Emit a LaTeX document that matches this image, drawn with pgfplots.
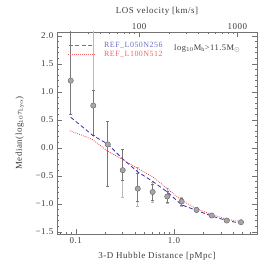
\documentclass[border=0pt]{standalone}
\usepackage{fontspec}
\setmainfont{Liberation Serif}[LetterSpace=6]
\usepackage{pgfplots}
\usepackage{pgfplotstable}
\pgfplotsset{compat=1.18}
\definecolor{axgray}{RGB}{115,115,115}
\definecolor{txtgray}{RGB}{60,60,60}
\definecolor{ptfill}{RGB}{172,164,164}
\definecolor{ptedge}{RGB}{110,105,105}
\definecolor{ebdark}{RGB}{120,120,120}
\definecolor{eblight}{RGB}{185,185,185}
\definecolor{blueline}{RGB}{50,50,160}
\definecolor{bluetext}{RGB}{110,110,195}
\definecolor{redline}{RGB}{240,70,80}
\definecolor{redtext}{RGB}{240,100,105}

\pgfplotstableread{
d      v      op    om     ip    im
0.089  1.20   1.40  0.595  1.40  0.595
0.151  0.754  1.80  0.524  0.266 0.524
0.212  0.061  0.41  0.75   0.41  0.75
0.301  -0.40  0.37  0.49   0.37  0.18
0.428  -0.73  0.39  0.32   0.28  0.22
0.607  -0.79  0.18  0.19   0.14  0.14
0.855  -0.87  0.14  0.13   0.10  0.10
1.197  -0.96  0.07  0.09   0.05  0.06
1.70   -1.11  0.04  0.04   0.03  0.03
2.42   -1.21  0.03  0.03   0.02  0.02
3.44   -1.30  0.02  0.02   0.015 0.015
4.81   -1.33  0.02  0.02   0.015 0.015
}\pts

\pgfplotstableread{
d      v
0.089  0.545
0.151  0.215
0.212  0.067
0.301  -0.20
0.428  -0.43
0.607  -0.60
0.855  -0.79
1.197  -1.02
1.70   -1.12
2.42   -1.22
3.44   -1.30
4.81   -1.35
}\blueL

\pgfplotstableread{
d      v
0.087  0.305
0.146  0.156
0.212  -0.06
0.301  -0.21
0.428  -0.37
0.607  -0.52
0.855  -0.73
1.197  -0.94
1.70   -1.09
2.42   -1.19
3.44   -1.28
4.81   -1.32
}\redL

\pgfplotsset{
  common/.style={
    width=200bp, height=202.5bp, scale only axis,
    at={(0,0)}, anchor=south west,
    axis line style={axgray, line width=0.5pt},
    tick style={axgray, line width=0.4pt},
    tick align=inside,
    major tick length=5bp, minor tick length=2.5bp,
    every tick label/.append style={font=\fontsize{9}{10}\selectfont, text=txtgray},
    label style={font=\fontsize{9}{10}\selectfont, text=txtgray},
  }
}

\begin{document}
\begin{tikzpicture}[x=1bp,y=1bp]
\path[use as bounding box] (-57,-37.5) rectangle (217,234.5);

% top axis (LOS velocity)
\begin{axis}[common,
  xmode=log, xmin=14.58, xmax=1582, ymin=0, ymax=1,
  axis x line*=top, hide y axis,
  xtick={100,1000}, xticklabels={100,1000},
  minor xtick={20,30,40,50,60,70,80,90,200,300,400,500,600,700,800,900},
  xticklabel style={yshift=-1bp},
  xlabel={LOS velocity [km/s]},
  xlabel style={at={(axis description cs:0.5,1.1)}, anchor=center},
]
\end{axis}

\begin{axis}[common,
  xmode=log, xmin=0.0645, xmax=7.0, ymin=-1.55, ymax=2.07,
  xtick={0.1,1}, xticklabels={0.1,1.0},
  minor xtick={0.07,0.08,0.09,0.2,0.3,0.4,0.5,0.6,0.7,0.8,0.9,2,3,4,5,6,7},
  xtick pos=bottom, ytick pos=both,
  ytick={-1.5,-1,-0.5,0,0.5,1,1.5,2},
  yticklabels={−1.5,−1.0,−0.5,0.0,0.5,1.0,1.5,2.0},
  minor y tick num=4,
  xlabel={3-D Hubble Distance [pMpc]},
  xlabel style={at={(axis description cs:0.5,-0.108)}, anchor=center},
  ylabel={Median(log$_{10}\tau_{\mathrm{Ly}\alpha}$)},
  ylabel style={at={(axis description cs:-0.185,0.5)}, anchor=center, rotate=0},
]
% outer (light) error bars
\addplot[only marks, mark=none, forget plot,
  error bars/.cd, y dir=both, y explicit,
  error bar style={color=eblight, line width=0.7pt},
  error mark options={rotate=90, color=eblight, mark size=1.5bp, line width=0.5pt}]
  table[x=d, y=v, y error plus=op, y error minus=om]{\pts};
% inner (dark) error bars
\addplot[only marks, mark=none, forget plot,
  error bars/.cd, y dir=both, y explicit,
  error bar style={color=ebdark, line width=0.6pt},
  error mark options={rotate=90, color=ebdark, mark size=1.5bp, line width=0.5pt}]
  table[x=d, y=v, y error plus=ip, y error minus=im]{\pts};
% model lines
\addplot[blueline, line width=0.8pt, dash pattern=on 4bp off 2.5bp] table[x=d, y=v]{\blueL};
\addplot[redline, line width=0.8pt, dash pattern=on 0.8bp off 1.2bp] table[x=d, y=v]{\redL};
% data points
\addplot[only marks, mark=*, mark size=2.7bp,
  mark options={fill=ptfill, draw=ptedge, line width=0.4pt}]
  table[x=d, y=v]{\pts};
% legend
\draw[color=bluetext, line width=0.6pt, dash pattern=on 4bp off 2.5bp]
  (rel axis cs:0.06,0.932) -- (rel axis cs:0.19,0.932);
\draw[color=redtext, line width=0.7pt, dash pattern=on 0.8bp off 1.2bp]
  (rel axis cs:0.055,0.891) -- (rel axis cs:0.19,0.891);
\node[anchor=west, inner sep=0pt, text=bluetext, font=\fontsize{8}{9}\selectfont]
  at (rel axis cs:0.235,0.932) {REF\_L050N256};
\node[anchor=west, inner sep=0pt, text=redtext, font=\fontsize{8}{9}\selectfont]
  at (rel axis cs:0.235,0.891) {REF\_L100N512};
\node[anchor=west, inner sep=0pt, text=txtgray, font=\fontsize{8.5}{9}\selectfont]
  at (rel axis cs:0.585,0.92) {log$_{10}$M$_{\rm h}$>11.5M$_\odot$};
\end{axis}
\end{tikzpicture}
\end{document}
